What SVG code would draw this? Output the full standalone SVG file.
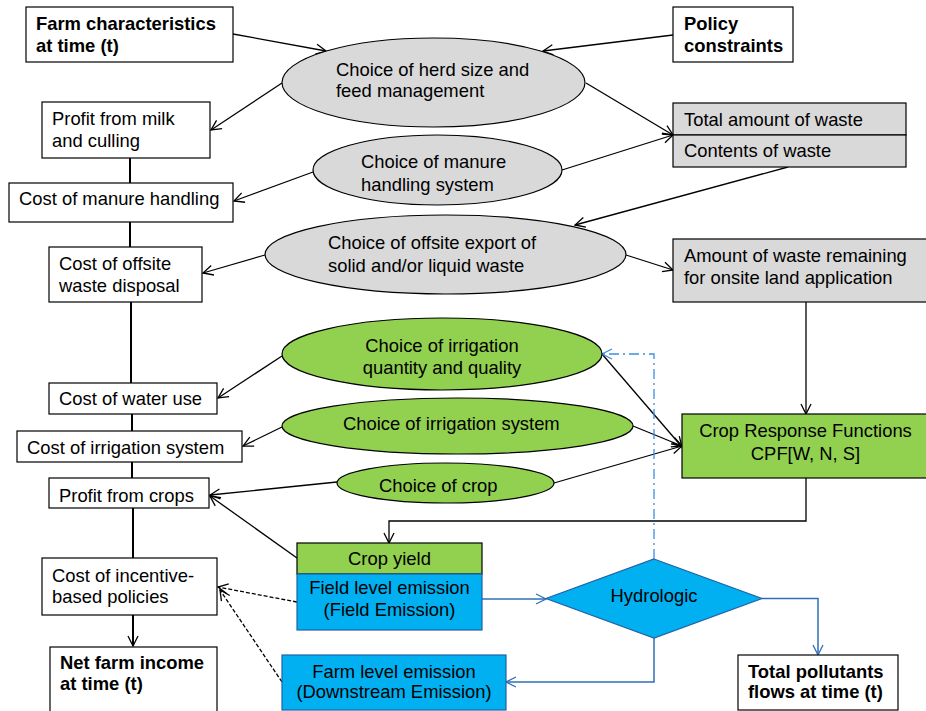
<svg xmlns="http://www.w3.org/2000/svg" width="926" height="711" viewBox="0 0 926 711">
<style>
.box{stroke:#000;stroke-width:1.2;fill:#fff}
.gray{fill:#d9d9d9}
.green{fill:#92d050}
.blue{fill:#00b0f0;stroke:#1f62a8}
text{font-family:"Liberation Sans",Arial,sans-serif;font-size:18.4px;fill:#000}
.b{font-weight:bold}
.m{text-anchor:middle}
.ln{stroke:#000;stroke-width:1.3;fill:none}
.sp{stroke:#000;stroke-width:2;fill:none}
.bl{stroke:#2e70b8;stroke-width:1.5;fill:none}
.dd{stroke:#3d8fe0;stroke-width:1.3;fill:none;stroke-dasharray:10 4 2 4}
.dash{stroke-dasharray:4 2}
</style>
<defs>
<marker id="ah" viewBox="0 0 12 12" refX="11" refY="6" markerWidth="12" markerHeight="12" markerUnits="userSpaceOnUse" orient="auto">
<path d="M1,1 L11,6 L1,11" fill="none" stroke="#000" stroke-width="1.3"/>
</marker>
<marker id="ahb" viewBox="0 0 12 12" refX="11" refY="6" markerWidth="12" markerHeight="12" markerUnits="userSpaceOnUse" orient="auto">
<path d="M1,1 L11,6 L1,11" fill="none" stroke="#2e70b8" stroke-width="1.3"/>
</marker>
<marker id="ahl" viewBox="0 0 12 12" refX="11" refY="6" markerWidth="12" markerHeight="12" markerUnits="userSpaceOnUse" orient="auto">
<path d="M1,1 L11,6 L1,11" fill="none" stroke="#3d8fe0" stroke-width="1.3"/>
</marker>
</defs>
<rect width="926" height="711" fill="#fff"/>
<g id="connectors">
<line class="sp" x1="130" y1="158" x2="130" y2="183"/>
<line class="sp" x1="130" y1="222" x2="130" y2="247"/>
<line class="sp" x1="131" y1="302" x2="131" y2="383"/>
<line class="sp" x1="132" y1="414" x2="132" y2="431"/>
<line class="sp" x1="132" y1="462" x2="132" y2="478"/>
<line class="sp" x1="133" y1="508" x2="133" y2="558"/>
<line class="sp" x1="133" y1="615" x2="133" y2="646" marker-end="url(#ah)"/>
<line class="ln" x1="233" y1="34" x2="326" y2="51" marker-end="url(#ah)"/>
<line class="ln" x1="673" y1="35" x2="543" y2="51" marker-end="url(#ah)"/>
<line class="ln" x1="282" y1="83" x2="211" y2="130" marker-end="url(#ah)"/>
<line class="ln" x1="586" y1="83" x2="673" y2="135" marker-end="url(#ah)"/>
<line class="ln" x1="562" y1="170" x2="673" y2="135" marker-end="url(#ah)"/>
<line class="ln" x1="313" y1="172" x2="234" y2="201" marker-end="url(#ah)"/>
<line class="ln" x1="788" y1="167" x2="575" y2="225" marker-end="url(#ah)"/>
<line class="ln" x1="626" y1="255" x2="673" y2="270" marker-end="url(#ah)"/>
<line class="ln" x1="265" y1="255" x2="203" y2="273" marker-end="url(#ah)"/>
<line class="ln" x1="806" y1="302" x2="806" y2="414" marker-end="url(#ah)"/>
<line class="ln" x1="282" y1="356" x2="218" y2="398" marker-end="url(#ah)"/>
<line class="ln" x1="282" y1="427" x2="243" y2="446" marker-end="url(#ah)"/>
<line class="ln" x1="337" y1="482" x2="210" y2="495" marker-end="url(#ah)"/>
<line class="ln" x1="297" y1="558" x2="210" y2="496" marker-end="url(#ah)"/>
<line class="ln" x1="602" y1="354" x2="682" y2="447" marker-end="url(#ah)"/>
<line class="ln" x1="633" y1="426" x2="682" y2="446" marker-end="url(#ah)"/>
<line class="ln" x1="554" y1="483" x2="682" y2="446" marker-end="url(#ah)"/>
<polyline class="ln" points="806,478 806,521 389,521 389,543" marker-end="url(#ah)"/>
<line class="ln dash" x1="297" y1="602" x2="218" y2="587" marker-end="url(#ah)"/>
<line class="ln dash" x1="282" y1="682" x2="220" y2="590" marker-end="url(#ah)"/>
<line class="bl" x1="482" y1="599" x2="546" y2="599" marker-end="url(#ahb)"/>
<polyline class="bl" points="762,598.5 818,598.5 818,655" marker-end="url(#ahb)"/>
<polyline class="bl" points="654,638 654,682 506,682" marker-end="url(#ahb)"/>
<polyline class="dd" points="654,559 654,354 602,354" marker-end="url(#ahl)"/>
</g>
<g id="farm-characteristics">
<rect class="box" x="26" y="7" width="207" height="55"/>
<text class="b" x="36" y="30">Farm characteristics</text>
<text class="b" x="36" y="52">at time (t)</text>
</g>
<g id="policy-constraints">
<rect class="box" x="673" y="7" width="120" height="55"/>
<text class="b" x="684" y="30">Policy</text>
<text class="b" x="684" y="52">constraints</text>
</g>
<g id="herd-choice">
<ellipse class="box gray" cx="433.5" cy="82.5" rx="151.5" ry="44.5"/>
<text x="336" y="76">Choice of herd size and</text>
<text x="336" y="97">feed management</text>
</g>
<g id="profit-milk">
<rect class="box" x="42" y="102" width="168" height="56"/>
<text x="52" y="125">Profit from milk</text>
<text x="52" y="147">and culling</text>
</g>
<g id="cost-manure">
<rect class="box" x="9" y="183" width="224" height="39"/>
<text x="19" y="205">Cost of manure handling</text>
</g>
<g id="manure-choice">
<ellipse class="box gray" cx="437.5" cy="170" rx="124.5" ry="35"/>
<text x="361" y="168">Choice of manure</text>
<text x="361" y="191">handling system</text>
</g>
<g id="waste">
<rect class="box gray" x="673" y="103" width="233" height="32"/>
<rect class="box gray" x="673" y="135" width="233" height="32"/>
<text x="684" y="126">Total amount of waste</text>
<text x="684" y="157">Contents of waste</text>
</g>
<g id="offsite-choice">
<ellipse class="box gray" cx="445.5" cy="254.5" rx="180.5" ry="39.5"/>
<text x="328" y="249">Choice of offsite export of</text>
<text x="328" y="272">solid and/or liquid waste</text>
</g>
<g id="cost-offsite">
<rect class="box" x="49" y="247" width="153" height="55"/>
<text x="59" y="270">Cost of offsite</text>
<text x="59" y="292">waste disposal</text>
</g>
<g id="remaining-waste">
<rect class="box gray" x="673" y="239" width="256" height="63"/>
<text x="684" y="262">Amount of waste remaining</text>
<text x="684" y="284">for onsite land application</text>
</g>
<g id="irrigation-quantity">
<ellipse class="box green" cx="442" cy="354" rx="160" ry="36"/>
<text class="m" x="442" y="352">Choice of irrigation</text>
<text class="m" x="442" y="374">quantity and quality</text>
</g>
<g id="cost-water">
<rect class="box" x="49" y="383" width="168" height="31"/>
<text x="59" y="405">Cost of water use</text>
</g>
<g id="irrigation-system">
<ellipse class="box green" cx="457.5" cy="426" rx="175.5" ry="28"/>
<text x="343" y="430">Choice of irrigation system</text>
</g>
<g id="cost-irrigation">
<rect class="box" x="17" y="431" width="225" height="31"/>
<text x="27" y="454">Cost of irrigation system</text>
</g>
<g id="crop-choice">
<ellipse class="box green" cx="445.5" cy="483" rx="108.5" ry="20"/>
<text x="379" y="492">Choice of crop</text>
</g>
<g id="profit-crops">
<rect class="box" x="49" y="478" width="160" height="30"/>
<text x="59" y="502">Profit from crops</text>
</g>
<g id="crop-response">
<rect class="box green" x="682" y="414" width="247" height="64"/>
<text class="m" x="805.5" y="437">Crop Response Functions</text>
<text class="m" x="805.5" y="460">CPF[W, N, S]</text>
</g>
<g id="crop-yield">
<rect class="box green" x="297" y="543" width="185" height="31"/>
<rect class="box blue" x="297" y="574" width="185" height="56"/>
<text class="m" x="389.5" y="565">Crop yield</text>
<text class="m" x="389.5" y="594">Field level emission</text>
<text class="m" x="389.5" y="616">(Field Emission)</text>
</g>
<g id="farm-emission">
<rect class="box blue" x="282" y="655" width="224" height="55"/>
<text class="m" x="394" y="678">Farm level emission</text>
<text class="m" x="394" y="698">(Downstream Emission)</text>
</g>
<g id="hydrologic">
<polygon class="box blue" points="654,559 762,598.5 654,638 546,598.5"/>
<text class="m" x="654" y="602">Hydrologic</text>
</g>
<g id="total-pollutants">
<rect class="box" x="738" y="655" width="160" height="55"/>
<text class="b" x="748" y="678">Total pollutants</text>
<text class="b" x="748" y="698">flows at time (t)</text>
</g>
<g id="cost-incentive">
<rect class="box" x="42" y="558" width="175" height="57"/>
<text x="52" y="582">Cost of incentive-</text>
<text x="52" y="603">based policies</text>
</g>
<g id="net-income">
<rect class="box" x="50" y="647" width="167" height="66"/>
<text class="b" x="60" y="669">Net farm income</text>
<text class="b" x="60" y="690">at time (t)</text>
</g>
</svg>
